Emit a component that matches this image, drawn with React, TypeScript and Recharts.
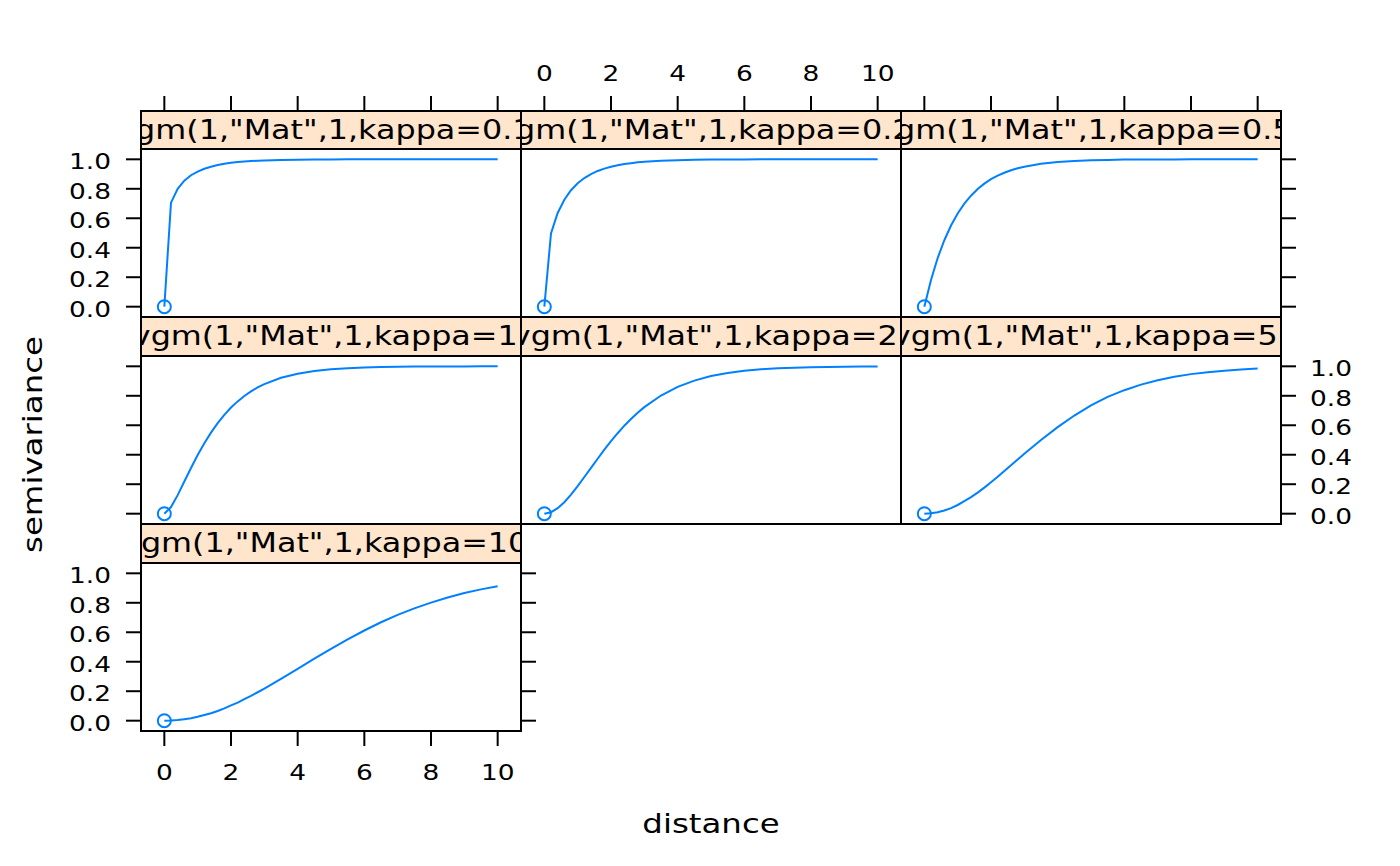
import React from 'react';
import { LineChart, Line, XAxis, YAxis } from 'recharts';

// distances at which the variogram curves were sampled
const distances = [0, 0.2, 0.4, 0.6, 0.8, 1, 1.2, 1.4, 1.6, 1.8, 2, 2.2, 2.4, 2.6, 2.8, 3, 3.5, 4, 4.5, 5, 5.5, 6, 6.5, 7, 7.5, 8, 8.5, 9, 9.5, 10];

const kappas = ['0.1', '0.2', '0.5', '1', '2', '5', '10'];

const gammaK01 = [0, 0.706, 0.8, 0.855, 0.892, 0.917, 0.936, 0.95, 0.961, 0.97, 0.976, 0.981, 0.985, 0.988, 0.99, 0.992, 0.996, 0.997, 0.999, 0.999, 1, 1, 1, 1, 1, 1, 1, 1, 1, 1];
const gammaK02 = [0, 0.497, 0.636, 0.726, 0.79, 0.837, 0.873, 0.9, 0.921, 0.937, 0.95, 0.96, 0.968, 0.974, 0.98, 0.984, 0.99, 0.994, 0.997, 0.998, 0.999, 0.9995, 1, 1, 1, 1, 1, 1, 1, 1];
const gammaK05 = [0, 0.181, 0.33, 0.451, 0.551, 0.632, 0.699, 0.753, 0.798, 0.835, 0.865, 0.889, 0.909, 0.926, 0.939, 0.95, 0.97, 0.982, 0.989, 0.993, 0.996, 0.998, 0.998, 0.999, 0.9994, 0.9997, 0.9998, 0.9999, 0.9999, 1];
const gammaK1 = [0, 0.045, 0.126, 0.218, 0.31, 0.398, 0.478, 0.55, 0.614, 0.671, 0.72, 0.762, 0.799, 0.83, 0.857, 0.879, 0.922, 0.95, 0.968, 0.98, 0.987, 0.992, 0.995, 0.997, 0.998, 0.999, 0.9992, 0.9995, 0.9997, 0.9998];
const gammaK2 = [0, 0.01, 0.037, 0.078, 0.129, 0.187, 0.249, 0.311, 0.373, 0.434, 0.492, 0.546, 0.597, 0.643, 0.685, 0.723, 0.802, 0.861, 0.903, 0.934, 0.954, 0.97, 0.98, 0.987, 0.991, 0.994, 0.996, 0.997, 0.998, 0.999];
const gammaK5 = [0, 0.003, 0.01, 0.022, 0.038, 0.059, 0.085, 0.112, 0.143, 0.177, 0.213, 0.25, 0.29, 0.328, 0.368, 0.406, 0.5, 0.587, 0.666, 0.735, 0.793, 0.838, 0.876, 0.906, 0.929, 0.947, 0.96, 0.97, 0.979, 0.985];
const gammaK10 = [0, 0.001, 0.004, 0.01, 0.017, 0.027, 0.039, 0.051, 0.066, 0.084, 0.104, 0.123, 0.147, 0.169, 0.193, 0.217, 0.283, 0.352, 0.421, 0.488, 0.552, 0.612, 0.668, 0.718, 0.762, 0.801, 0.836, 0.866, 0.891, 0.912];

const series = [gammaK01, gammaK02, gammaK05, gammaK1, gammaK2, gammaK5, gammaK10];

const xTicks = [0, 2, 4, 6, 8, 10];
const yTicks = [0, 0.2, 0.4, 0.6, 0.8, 1.0];

const BLUE = '#0080ff';
const STRIP_BG = '#ffe5cc';
const FONT = '"DejaVu Sans", Verdana, sans-serif';
const STRETCH = 1.2;

const COL_X = [141, 521, 901];
const PANEL_W = 380;
const STRIP_TOP = [111, 317, 524];
const STRIP_BOTTOM = [149, 356, 563];
const PLOT_BOTTOM = [317, 524, 731];
const PLOT_H = 168;
const SIDE = 90;
const X_DOMAIN: [number, number] = [-0.7, 10.7];
const Y_LO = -0.07;
const Y_HI = 1.07;

type Show = 'none' | 'ticks' | 'labels';
type Panel = { c: number; r: number; top?: Show; bottom?: Show; left?: Show; right?: Show };

// lattice layout: index in this list matches kappas / series
const panels: Panel[] = [
  { c: 0, r: 0, top: 'ticks', left: 'labels' },
  { c: 1, r: 0, top: 'labels' },
  { c: 2, r: 0, top: 'ticks', right: 'ticks' },
  { c: 0, r: 1, left: 'ticks' },
  { c: 1, r: 1 },
  { c: 2, r: 1, right: 'labels' },
  { c: 0, r: 2, left: 'labels', bottom: 'labels', right: 'ticks' },
];

const makeTick = (side: 'left' | 'right' | 'top' | 'bottom', fmt: (v: number) => string) => (props: any) => {
  const { x, y, payload } = props;
  const anchor = side === 'left' ? 'end' : side === 'right' ? 'start' : 'middle';
  const dy = side === 'left' || side === 'right' ? 10 : side === 'bottom' ? 16.5 : 0;
  return (
    <g transform={`translate(${x},${y}) scale(${STRETCH},1)`}>
      <text x={0} y={dy} textAnchor={anchor} fontSize={22} fill="#000" fontFamily={FONT}>
        {fmt(payload.value)}
      </text>
    </g>
  );
};

const emptyTick = () => <g />;
const fmtX = (v: number) => String(v);
const fmtY = (v: number) => v.toFixed(1);

const firstDot = (p: any) =>
  p.index === 0 ? (
    <circle key={`dot-${p.index}`} cx={p.cx} cy={p.cy} r={6.5} fill="none" stroke={BLUE} strokeWidth={2} />
  ) : (
    <g key={`dot-${p.index}`} />
  );

const tickLineStyle = { stroke: '#000', strokeWidth: 2 };

function axisProps(show: Show | undefined, side: 'left' | 'right' | 'top' | 'bottom', fmt: (v: number) => string, margin: number) {
  if (!show || show === 'none') return { tickLine: false, tick: false as any };
  return {
    tickLine: tickLineStyle,
    tickSize: 15,
    tickMargin: margin,
    tick: show === 'labels' ? makeTick(side, fmt) : emptyTick,
  };
}

function PanelChart({ p, idx }: { p: Panel; idx: number }) {
  const stripH = STRIP_BOTTOM[p.r] - STRIP_TOP[p.r];
  const areaH = PLOT_BOTTOM[p.r] - STRIP_TOP[p.r];
  const yTop = Y_HI + (stripH * (Y_HI - Y_LO)) / PLOT_H;
  const rows = distances.map((d, i) => ({ d, g: series[idx][i] }));
  return (
    <div style={{ position: 'absolute', left: COL_X[p.c] - SIDE, top: STRIP_TOP[p.r] - SIDE }}>
      <LineChart width={PANEL_W + 2 * SIDE} height={areaH + 2 * SIDE} data={rows} margin={{ top: 0, right: 0, bottom: 0, left: 0 }}>
        <XAxis xAxisId="bottom" orientation="bottom" type="number" dataKey="d" domain={X_DOMAIN} ticks={xTicks} height={SIDE} axisLine={false} {...axisProps(p.bottom, 'bottom', fmtX, 17)} />
        <XAxis xAxisId="top" orientation="top" type="number" dataKey="d" domain={X_DOMAIN} ticks={xTicks} height={SIDE} axisLine={false} {...axisProps(p.top, 'top', fmtX, 15)} />
        <YAxis yAxisId="left" orientation="left" type="number" dataKey="g" domain={[Y_LO, yTop]} ticks={yTicks} width={SIDE} axisLine={false} {...axisProps(p.left, 'left', fmtY, 15)} />
        <YAxis yAxisId="right" orientation="right" type="number" dataKey="g" domain={[Y_LO, yTop]} ticks={yTicks} width={SIDE} axisLine={false} {...axisProps(p.right, 'right', fmtY, 14)} />
        <Line xAxisId="bottom" yAxisId="left" type="linear" dataKey="g" stroke={BLUE} strokeWidth={2} dot={firstDot} activeDot={false} isAnimationActive={false} />
      </LineChart>
    </div>
  );
}

export default function App() {
  return (
    <div style={{ position: 'absolute', left: 0, top: 0, width: 1400, height: 866, background: '#fff', fontFamily: FONT, overflow: 'hidden' }}>
      {panels.map((p, i) => (
        <PanelChart key={`chart-${i}`} p={p} idx={i} />
      ))}
      {panels.map((p, i) => (
        <React.Fragment key={`frame-${i}`}>
          <div
            style={{
              position: 'absolute',
              left: COL_X[p.c] - 1,
              top: STRIP_BOTTOM[p.r] - 1,
              width: PANEL_W + 2,
              height: PLOT_BOTTOM[p.r] - STRIP_BOTTOM[p.r] + 2,
              border: '2px solid #000',
              boxSizing: 'border-box',
            }}
          />
          <div
            style={{
              position: 'absolute',
              left: COL_X[p.c] - 1,
              top: STRIP_TOP[p.r] - 1,
              width: PANEL_W + 2,
              height: STRIP_BOTTOM[p.r] - STRIP_TOP[p.r] + 2,
              border: '2px solid #000',
              boxSizing: 'border-box',
              background: STRIP_BG,
              overflow: 'hidden',
              display: 'flex',
              justifyContent: 'center',
              alignItems: 'center',
            }}
          >
            <span style={{ flexShrink: 0, whiteSpace: 'nowrap', fontSize: 26.5, lineHeight: 1, transform: `scaleX(${STRETCH})`, color: '#000' }}>
              {`vgm(1,"Mat",1,kappa=${kappas[i]})`}
            </span>
          </div>
        </React.Fragment>
      ))}
      <div style={{ position: 'absolute', left: 511, top: 810, width: 400, textAlign: 'center', fontSize: 27, lineHeight: 1, transform: `scaleX(${STRETCH})`, color: '#000' }}>
        distance
      </div>
      <div
        style={{
          position: 'absolute',
          left: 32.4 - 200,
          top: 444 - 13.5,
          width: 400,
          height: 27,
          textAlign: 'center',
          fontSize: 27,
          lineHeight: '27px',
          transform: `rotate(-90deg) scaleX(${STRETCH})`,
          color: '#000',
        }}
      >
        semivariance
      </div>
    </div>
  );
}
